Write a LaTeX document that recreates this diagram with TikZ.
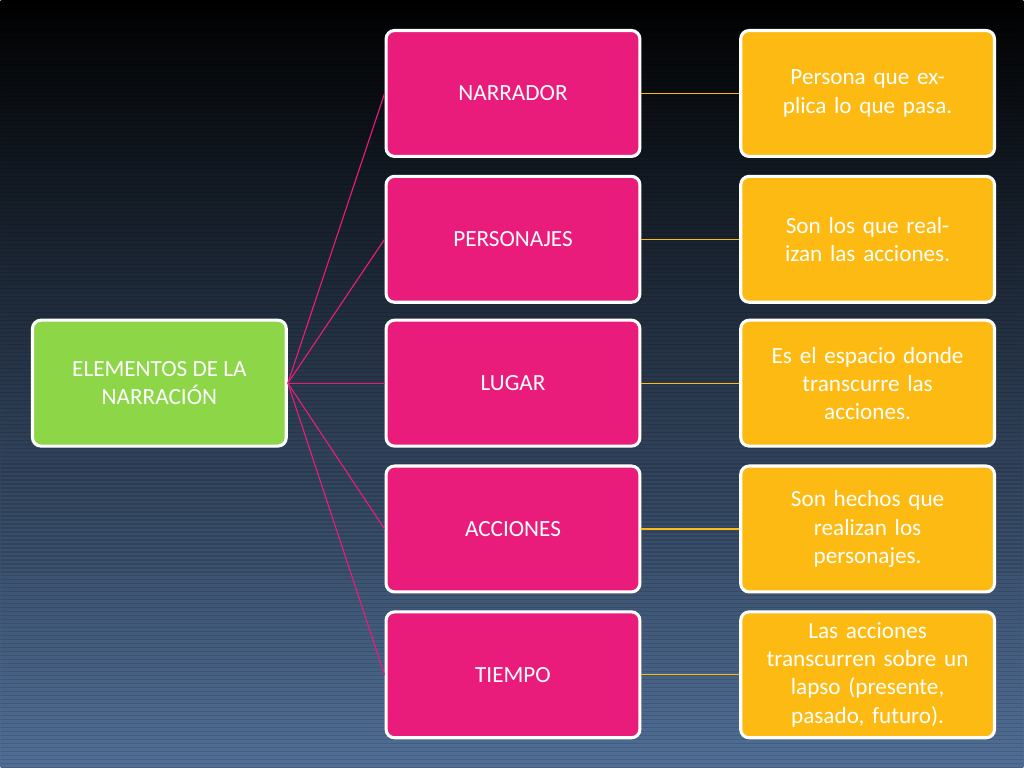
\documentclass[tikz,border=0pt]{standalone}
\usepackage{fontspec}
\setmainfont{Carlito}
\usetikzlibrary{positioning}
\definecolor{pinkbox}{RGB}{233,28,124}
\definecolor{greenbox}{RGB}{140,214,72}
\definecolor{yellowbox}{RGB}{253,186,18}
\definecolor{bgtop}{RGB}{0,0,0}
\definecolor{bgbot}{RGB}{80,110,150}
\tikzset{
  box/.style={draw=white, line width=2.2pt, rounded corners=6pt, minimum width=6.35cm, minimum height=3.15cm, align=center, text=white, font=\fontsize{16.5}{20}\selectfont},
  elem/.style={box, fill=pinkbox},
  root/.style={box, fill=greenbox},
  desc/.style={box, fill=yellowbox, text width=6.1cm},
  link/.style={draw=pinkbox, line width=0.8pt},
  dlink/.style={draw=yellowbox, line width=0.8pt}
}
\begin{document}
\begin{tikzpicture}[x=0.025cm, y=-0.025cm]
    % Background
    \shade[top color=bgtop, bottom color=bgbot] (0,0) rectangle (1024,768);
    \foreach \y in {0,4,...,768} \draw[black, opacity=0.12, line width=0.8pt] (0,\y) -- (1024,\y);
    \useasboundingbox (0,0) rectangle (1024,768);

    % Nodes
    \node [root] (elementos) at (159,383) {ELEMENTOS DE LA\\NARRACIÓN};
    \node [elem] (narrador)   at (513,93)  {NARRADOR};
    \node [elem] (personajes) at (513,239) {PERSONAJES};
    \node [elem] (lugar)      at (513,383) {LUGAR};
    \node [elem] (acciones)   at (513,529) {ACCIONES};
    \node [elem] (tiempo)     at (513,675) {TIEMPO};
    \node [desc] (dnarrador)   at (868,93)  {Persona que explica lo que pasa.};
    \node [desc] (dpersonajes) at (868,239) {Son los que realizan las acciones.};
    \node [desc] (dlugar)      at (868,383) {Es el espacio donde\\transcurre las\\acciones.};
    \node [desc] (dacciones)   at (868,529) {Son hechos que\\realizan los\\personajes.};
    \node [desc] (dtiempo)     at (868,675) {Las acciones\\transcurren sobre un\\lapso (presente,\\pasado, futuro).};

    % Paths
    \foreach \n in {narrador, personajes, lugar, acciones, tiempo} {
        \path [link]  (elementos.east) -- (\n.west);
        \path [dlink] (\n.east) -- (d\n.west);
    }
\end{tikzpicture}
\end{document}
